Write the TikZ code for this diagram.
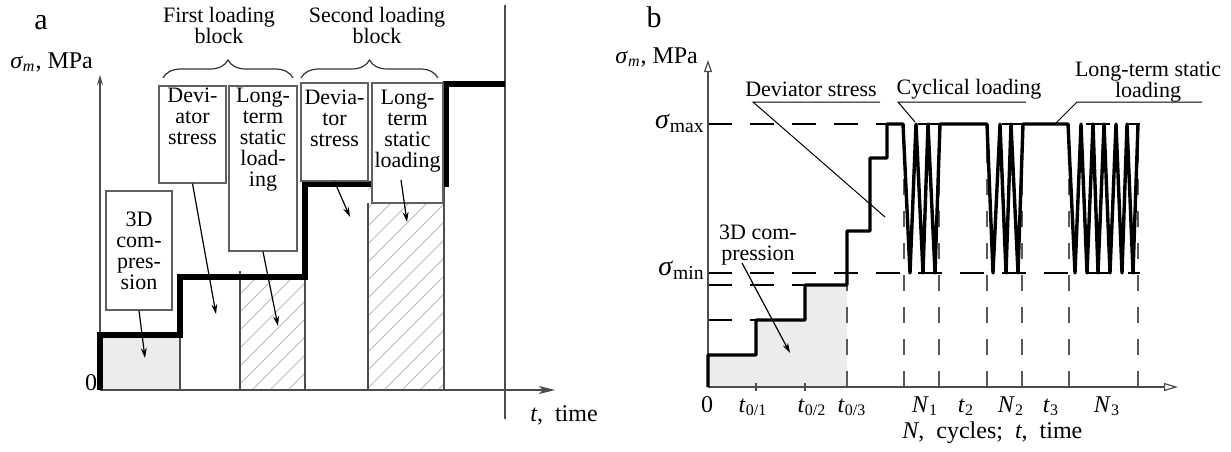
\documentclass[tikz,border=0pt]{standalone}
\usepackage{fontspec}
\setmainfont{Liberation Serif}
\usetikzlibrary{arrows.meta,decorations.pathreplacing,fit,calc}
\begin{document}
\begin{tikzpicture}[x=0.5pt,y=-0.5pt,
  lbl/.style={font=\fontsize{11}{10.5}\selectfont, inner sep=0pt, align=center},
  axl/.style={font=\fontsize{12}{12}\selectfont, inner sep=0pt},
  big/.style={font=\fontsize{15}{15}\selectfont, inner sep=0pt},
  boxst/.style={draw=gray!75!black, fill=white, line width=0.6pt, inner sep=0pt},
  thn/.style={draw=gray!60!black, line width=0.6pt},
  stairA/.style={line width=2.6pt, line join=miter},
  stairB/.style={line width=1.7pt, line join=round},
  ptr/.style={-{Stealth[length=5pt,width=3pt]}, line width=0.6pt},
  hatch/.style={draw=gray!55, line width=0.5pt},
  dsh/.style={dash pattern=on 12pt off 9pt, line width=0.7pt},
  vdsh/.style={dash pattern=on 8pt off 8pt, draw=gray!70!black, line width=0.6pt},
  lead/.style={line width=0.5pt},
  brc/.style={decorate, decoration={brace, amplitude=9pt}, draw=gray!40!black, line width=0.6pt}
]
\useasboundingbox (0,0) rectangle (1231,451);

% ================= panel a =================
\fill[gray!15] (100,335) rectangle (180,390);
\begin{scope}
  \clip (240,277) rectangle (305,390);
  \foreach \i in {0,18,...,300} \draw[hatch] (90+\i,390) -- ++(160,-160);
\end{scope}
\begin{scope}
  \clip (368,184) rectangle (444,390);
  \foreach \i in {0,18,...,400} \draw[hatch] (150+\i,390) -- ++(260,-260);
\end{scope}
\draw[thn] (180,390) -- (180,335);
\draw[thn] (240,390) -- (240,271);
\draw[thn] (305,390) -- (305,277);
\draw[thn] (368,390) -- (368,203);
\draw[thn] (444,390) -- (444,185);
\draw[thn] (505,5) -- (505,419);

\coordinate (oA) at (100,390);
\coordinate (yA) at (100,75);
\coordinate (xA) at (555,390);
\draw[thn, -{Stealth[length=5pt,width=3pt]}] (oA) -- (yA);
\draw[thn, -{Stealth[length=8pt,width=4pt,inset=2pt]}] (oA) -- (xA);

\draw[stairA] (100,390) -- (100,335) -- (180,335) -- (180,277) -- (305,277) -- (305,184) -- (446,184) -- (446,84) -- (505,84);

\node[boxst, fit={(106,191) (172,310)}] (c1) {};
\node[lbl] (c1t) at (c1.center) {3D\\com-\\pres-\\sion};
\node[boxst, fit={(159,86) (226,183)}] (d1) {};
\node[lbl, anchor=north] (d1t) at ($(d1.north)+(0,2.5)$) {Devi-\\ator\\stress};
\node[boxst, fit={(229,86) (297,251)}] (l1) {};
\node[lbl, anchor=north] (l1t) at ($(l1.north)+(0,2.5)$) {Long-\\term\\static\\load-\\ing};
\node[boxst, fit={(301,83) (368,181)}] (d2) {};
\node[lbl, anchor=north] (d2t) at ($(d2.north)+(0,7)$) {Devia-\\tor\\stress};
\node[boxst, fit={(372,83) (443,203)}] (l2) {};
\node[lbl, anchor=north] (l2t) at ($(l2.north)+(0,7)$) {Long-\\term\\static\\loading};

\coordinate (c1e) at (145,358);
\coordinate (d1e) at (216,314);
\coordinate (l1e) at (278,326);
\coordinate (d2e) at (350,217);
\coordinate (l2s) at (401,180);
\coordinate (l2e) at (407,222);
\draw[ptr] (c1.south) -- (c1e);
\draw[ptr] (d1.south) -- (d1e);
\draw[ptr] (l1.south) -- (l1e);
\draw[ptr] (d2.south) -- (d2e);
\draw[ptr] (l2s) -- (l2e);

\coordinate (b1a) at (163,78); \coordinate (b1b) at (293,78);
\coordinate (b2a) at (301,78); \coordinate (b2b) at (438,78);
\draw[brc] (b1a) -- (b1b);
\draw[brc] (b2a) -- (b2b);

\node[lbl, anchor=north] (flb) at (219,7) {First loading\\block};
\node[lbl, anchor=north] (slb) at (377,7) {Second loading\\block};
\node[big, anchor=base] (la) at (41,29) {a};
\node[axl, anchor=base west] (yla) at (10,68) {\textit{σ}\textsubscript{\textit{m}}, MPa};
\node[axl, anchor=base] (z1) at (91,390) {0};
\node[axl, anchor=base west] (xla) at (530,421) {\textit{t}, \ time};

% ================= panel b =================
\fill[gray!15] (708,387) -- (708,355) -- (756,355) -- (756,320) -- (805,320) -- (805,285) -- (847,285) -- (847,387) -- cycle;
\draw[dsh] (708,124) -- (1140,124);
\draw[dsh] (708,273) -- (1140,273);
\draw[dsh] (708,320) -- (756,320);
\draw[dsh] (708,285) -- (805,285);
\draw[vdsh] (847,387) -- (847,285);
\foreach \x in {904,939,987,1022,1069,1138} \draw[vdsh] (\x,387) -- (\x,124);
\draw[thn] (756,383) -- (756,391);
\draw[thn] (805,383) -- (805,391);

\coordinate (oB) at (708,387);
\coordinate (yB) at (708,60);
\coordinate (xB) at (1178,387);
\draw[thn, -{Triangle[open,length=6pt,width=4pt]}] (oB) -- (yB);
\draw[thn, -{Triangle[open,length=7pt,width=4pt]}] (oB) -- (xB);

\draw[stairB] (708,387) -- (708,355) -- (756,355) -- (756,320) -- (805,320) -- (805,285) -- (847,285) -- (847,231) -- (870,231) -- (870,158) -- (887,158) -- (887,124) -- (903,124)
  -- (910,273) -- (916,124) -- (923,273) -- (928,124) -- (935,273) -- (940,124) -- (987,124)
  -- (993,273) -- (1000,124) -- (1006,273) -- (1011,124) -- (1018,273) -- (1023,124) -- (1068,124)
  -- (1075,273) -- (1081,124) -- (1087,273) -- (1093,124) -- (1098,273) -- (1104,124) -- (1110,273) -- (1116,124) -- (1122,273) -- (1127,124) -- (1133,273) -- (1138,124);

\node[lbl, anchor=base] (dsl) at (811,96) {Deviator stress};
\coordinate (ds0) at (885,217); \coordinate (ds1) at (753,102); \coordinate (ds2) at (880,102);
\draw[lead] (ds0) -- (ds1) -- (ds2);
\node[lbl, anchor=base] (cyl) at (969,94) {Cyclical loading};
\coordinate (cy0) at (915,122); \coordinate (cy1) at (898,102); \coordinate (cy2) at (1026,102);
\draw[lead] (cy0) -- (cy1) -- (cy2);
\node[lbl, anchor=north] (ltl) at (1148,62) {Long-term static\\loading};
\coordinate (lt0) at (1055,124); \coordinate (lt1) at (1077,102); \coordinate (lt2) at (1202,102);
\draw[lead] (lt0) -- (lt1) -- (lt2);

\node[lbl, anchor=north] (tdl) at (758,225) {3D com-\\pression};
\coordinate (tdS) at (742,263); \coordinate (tdE) at (790,353);
\draw[ptr] (tdS) -- (tdE);

\node[big, anchor=base] (lb) at (654,27) {b};
\node[axl, anchor=base west] (ylb) at (615,63) {\textit{σ}\textsubscript{\textit{m}}, MPa};
\node[inner sep=0pt, anchor=base east, font=\fontsize{14}{14}\selectfont] (smax) at (705,128) {\textit{σ}\textsubscript{max}};
\node[inner sep=0pt, anchor=base east, font=\fontsize{14}{14}\selectfont] (smin) at (705,275) {\textit{σ}\textsubscript{min}};

\node[axl, anchor=base] (z2) at (707,412) {0};
\node[axl, anchor=base] (t01) at (753,412) {\textit{t}\textsubscript{0/1}};
\node[axl, anchor=base] (t02) at (812,412) {\textit{t}\textsubscript{0/2}};
\node[axl, anchor=base] (t03) at (852,412) {\textit{t}\textsubscript{0/3}};
\node[axl, anchor=base] (n1) at (925,412) {\textit{N}\textsubscript{1}};
\node[axl, anchor=base] (t2) at (966,412) {\textit{t}\textsubscript{2}};
\node[axl, anchor=base] (n2) at (1011,412) {\textit{N}\textsubscript{2}};
\node[axl, anchor=base] (t3) at (1051,412) {\textit{t}\textsubscript{3}};
\node[axl, anchor=base] (n3) at (1107,412) {\textit{N}\textsubscript{3}};
\node[axl, anchor=base west] (xlb) at (902,438) {\textit{N}, \ cycles; \ \textit{t}, \ time};
\end{tikzpicture}
\end{document}
